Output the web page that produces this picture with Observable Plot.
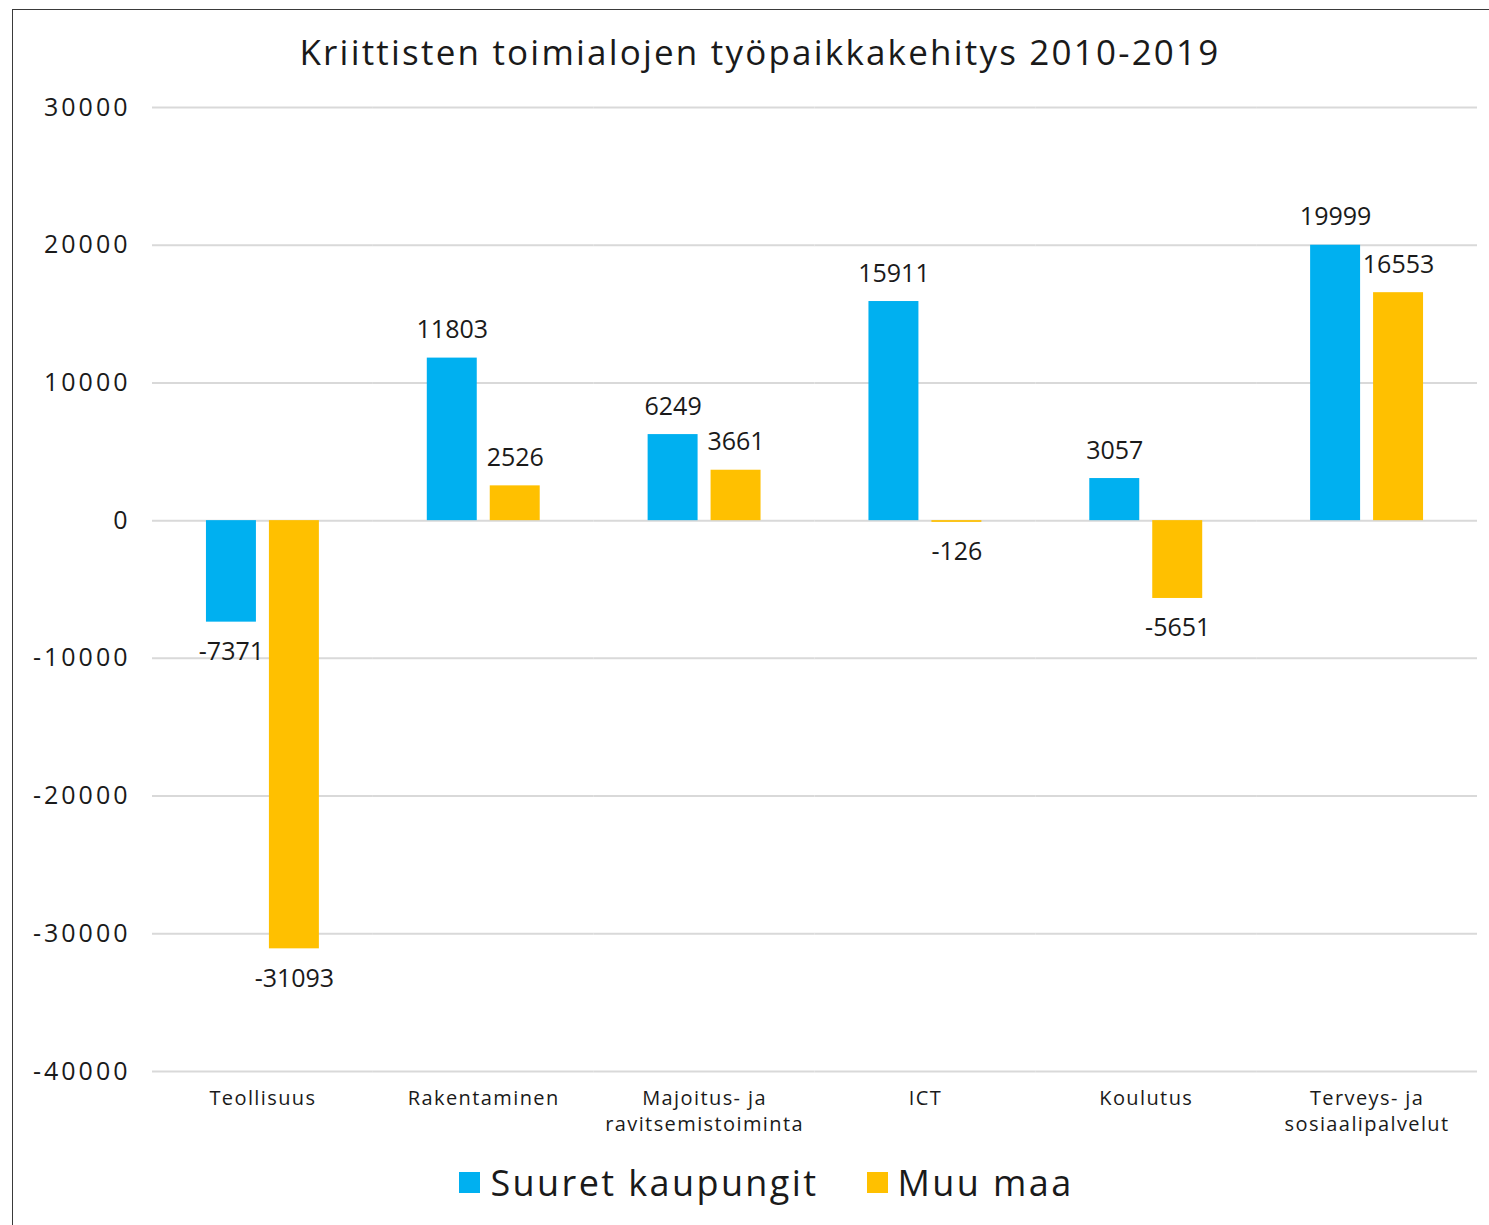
<!DOCTYPE html>
<html>
<head>
<meta charset="utf-8">
<script src="https://cdn.jsdelivr.net/npm/d3@7"></script>
<script src="https://cdn.jsdelivr.net/npm/@observablehq/plot@0.6"></script>
<style>
  html, body { margin: 0; padding: 0; background: #fff; }
  body { width: 1489px; height: 1225px; position: relative; overflow: hidden; font-family: "Open Sans", "Noto Sans", sans-serif; color: #1a1a1a; }
  #frame { position: absolute; left: 12px; top: 9px; width: 1500px; height: 1300px; border-left: 1.5px solid #3a3a3a; border-top: 1.5px solid #3a3a3a; box-sizing: border-box; }
  #chart { position: absolute; left: 0; top: 0; }
  #title { position: absolute; left: 0; width: 1520px; top: 28px; text-align: center; font-size: 35px; letter-spacing: 2.2px; }
  #legend { position: absolute; top: 1158px; left: 22px; width: 1489px; display: flex; justify-content: center; align-items: center; gap: 0; font-size: 36px; }
  .item { display: flex; align-items: center; margin: 0 24px; letter-spacing: 2.4px; }
  .sw { width: 21px; height: 21px; margin-right: 10px; }
  g[aria-label="y-axis tick label"] text { letter-spacing: 3px; }
  g[aria-label="fx-axis tick label"] text { letter-spacing: 1.4px; }
</style>
</head>
<body>
<div id="frame"></div>
<div id="chart"></div>
<div id="title">Kriittisten toimialojen työpaikkakehitys 2010-2019</div>
<div id="legend"></div>
<script>
const categories = ["Teollisuus", "Rakentaminen", "Majoitus- ja\nravitsemistoiminta", "ICT", "Koulutus", "Terveys- ja\nsosiaalipalvelut"];
const series = ["Suuret kaupungit", "Muu maa"];
const suuretKaupungit = [-7371, 11803, 6249, 15911, 3057, 19999];
const muuMaa = [-31093, 2526, 3661, -126, -5651, 16553];
const yTicks = [-40000, -30000, -20000, -10000, 0, 10000, 20000, 30000];
const colors = ["#00B0F0", "#FFC000"];

const data = [];
categories.forEach((c, i) => {
  data.push({category: c, series: series[0], value: suuretKaupungit[i]});
  data.push({category: c, series: series[1], value: muuMaa[i]});
});

const chart = Plot.plot({
  width: 1489,
  height: 1225,
  marginTop: 107,
  marginBottom: 154,
  marginLeft: 152,
  marginRight: 12,
  style: {fontFamily: "'Open Sans', 'Noto Sans', sans-serif", color: "#1a1a1a", background: "transparent"},
  fx: {domain: categories, padding: 0, round: false, label: null},
  x: {domain: series, paddingInner: 13/63, paddingOuter: 0.857, round: false, axis: null, label: null},
  y: {domain: [-40000, 30000], label: null},
  color: {domain: series, range: colors},
  marks: [
    Plot.ruleY(yTicks, {stroke: "#d9d9d9", strokeWidth: 2}),
    Plot.axisY({ticks: yTicks, tickSize: 0, tickPadding: 22, fontSize: 25, label: null, tickFormat: d => String(d)}),
    Plot.axisFx({anchor: "bottom", tickSize: 0, tickPadding: 15, fontSize: 20, label: null, lineHeight: 1.3}),
    Plot.barY(data, {fx: "category", x: "series", y: "value", fill: "series"}),
    Plot.text(data.filter(d => d.value >= 0), {fx: "category", x: "series", y: "value", text: d => String(d.value), dy: -28, fontSize: 25, fill: "#1a1a1a"}),
    Plot.text(data.filter(d => d.value < 0), {fx: "category", x: "series", y: "value", text: d => String(d.value), dy: 30, fontSize: 25, fill: "#1a1a1a"})
  ]
});
document.getElementById("chart").appendChild(chart);

const legend = document.getElementById("legend");
series.forEach((s, i) => {
  const item = document.createElement("div");
  item.className = "item";
  const sw = document.createElement("div");
  sw.className = "sw";
  sw.style.background = colors[i];
  const label = document.createElement("span");
  label.textContent = s;
  item.appendChild(sw);
  item.appendChild(label);
  legend.appendChild(item);
});
</script>
</body>
</html>
